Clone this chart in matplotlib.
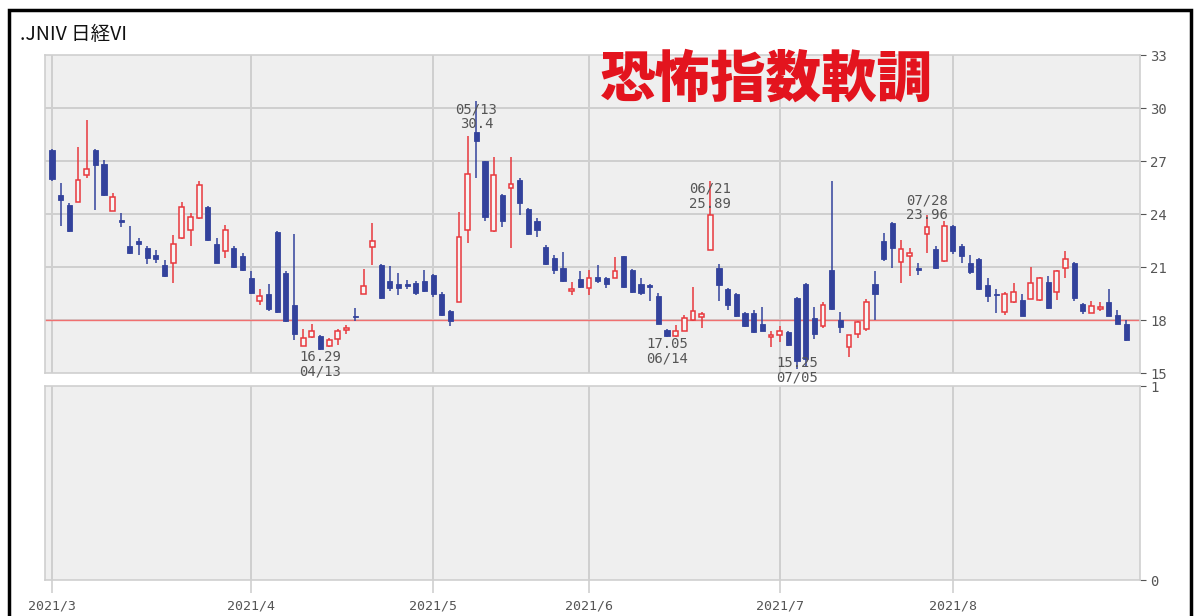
import matplotlib.pyplot as plt
from matplotlib.patches import Rectangle
import numpy as np
import pandas as pd

# Trading days (Tokyo), Mar-Aug 2021
holidays = ["2021-04-29", "2021-05-03", "2021-05-04", "2021-05-05",
            "2021-07-22", "2021-07-23", "2021-08-09"]
dates = pd.bdate_range("2021-03-01", "2021-08-31")
dates = dates[~dates.isin(pd.to_datetime(holidays))]

# Daily OHLC of Nikkei VI
opens = [27.6, 25.1, 24.5, 24.7, 26.2, 27.6, 26.85, 24.15, 23.65, 22.2,
         22.5, 22.1, 21.7, 21.1, 21.25, 22.65, 23.1, 23.75, 24.4, 22.3,
         21.9, 22.1, 21.65, 20.4, 19.1, 19.45, 23.0, 20.65, 18.85, 16.55,
         17.05, 17.1, 16.55, 16.95, 17.45, 18.25, 19.45, 22.15, 21.1, 20.2,
         20.05, 20.05, 20.1, 20.2, 20.55, 19.45, 18.5, 19.0, 23.1, 28.65,
         27.0, 23.05, 25.1, 25.45, 25.95, 24.3, 23.6, 22.15, 21.5, 20.95,
         19.65, 20.3, 19.8, 20.45, 20.35, 20.4, 21.6, 20.85, 20.05, 20.0,
         19.35, 17.45, 17.1, 17.4, 18.0, 18.15, 21.95, 20.95, 19.75, 19.5,
         18.4, 18.4, 17.75, 17.05, 17.15, 17.3, 19.25, 20.05, 18.1, 17.65,
         20.85, 18.0, 16.45, 17.2, 17.5, 20.05, 22.5, 23.5, 21.3, 21.6,
         20.95, 22.85, 22.0, 21.35, 23.3, 22.2, 21.25, 21.45, 20.0, 19.5,
         18.45, 19.0, 19.15, 19.2, 19.15, 20.15, 19.6, 20.95, 21.25, 18.9,
         18.4, 18.65, 19.0, 18.3, 17.8]
highs = [27.7, 25.75, 24.6, 27.8, 29.34, 27.7, 27.07, 25.2, 24.05, 23.3,
         22.64, 22.2, 21.95, 21.4, 22.8, 24.7, 24.05, 25.85, 24.45, 22.65,
         23.4, 22.2, 21.8, 20.75, 19.75, 20.05, 23.05, 20.8, 22.85, 17.5,
         17.75, 17.15, 17.0, 17.5, 17.7, 18.7, 20.9, 23.5, 21.15, 21.05,
         20.65, 20.25, 20.2, 20.85, 20.6, 19.6, 18.55, 24.1, 28.4, 30.4,
         27.0, 27.25, 25.15, 27.25, 26.05, 24.35, 23.75, 22.25, 21.7, 21.85,
         20.15, 20.75, 20.85, 21.1, 20.45, 21.55, 21.65, 20.9, 20.4, 20.05,
         19.55, 17.5, 17.7, 18.3, 19.85, 18.45, 25.89, 21.15, 19.8, 19.55,
         18.45, 18.55, 18.75, 17.4, 17.65, 17.4, 19.3, 20.1, 18.75, 19.0,
         25.85, 18.45, 17.15, 17.95, 19.2, 20.8, 22.95, 23.55, 22.55, 22.05,
         21.25, 23.96, 22.2, 23.6, 23.35, 22.3, 21.7, 21.5, 20.35, 19.75,
         19.6, 20.1, 19.5, 21.0, 20.45, 20.5, 20.85, 21.9, 21.3, 18.95,
         19.1, 19.0, 19.75, 18.55, 18.0]
lows = [25.85, 23.3, 23.0, 24.7, 26.04, 24.25, 25.0, 24.15, 23.25, 21.75,
        21.7, 21.15, 21.25, 20.45, 20.1, 22.6, 22.2, 23.7, 22.5, 21.25,
        21.5, 20.95, 20.75, 19.5, 18.85, 18.5, 18.4, 17.9, 16.85, 16.55,
        17.0, 16.29, 16.45, 16.6, 17.2, 17.95, 19.45, 21.1, 19.2, 19.65,
        19.4, 19.75, 19.4, 19.6, 19.3, 18.2, 17.65, 19.0, 22.35, 26.05,
        23.6, 23.0, 23.25, 22.05, 23.95, 22.8, 22.7, 21.1, 20.6, 20.15,
        19.4, 19.8, 19.4, 20.1, 19.8, 20.4, 19.8, 19.55, 19.4, 19.05,
        17.75, 17.05, 17.05, 17.4, 17.95, 17.55, 21.95, 19.05, 18.55, 18.15,
        17.6, 17.25, 17.35, 16.5, 16.75, 16.55, 15.25, 15.4, 16.9, 17.55,
        18.55, 17.25, 15.9, 17.0, 17.4, 18.0, 21.35, 20.95, 20.1, 20.5,
        20.55, 21.8, 20.9, 21.3, 21.75, 21.25, 20.6, 19.7, 19.0, 18.4,
        18.3, 18.95, 18.2, 19.2, 19.05, 18.65, 19.15, 20.35, 19.1, 18.35,
        18.4, 18.5, 18.2, 17.75, 16.8]
closes = [26.0, 24.8, 23.05, 25.9, 26.55, 26.8, 25.06, 24.95, 23.55, 21.8,
          22.3, 21.5, 21.45, 20.5, 22.3, 24.4, 23.85, 25.65, 22.55, 21.25,
          23.1, 21.0, 20.85, 19.55, 19.35, 18.6, 18.45, 17.95, 17.2, 17.0,
          17.4, 16.35, 16.85, 17.4, 17.55, 18.15, 19.9, 22.5, 19.25, 19.8,
          19.8, 19.95, 19.55, 19.65, 19.45, 18.3, 17.95, 22.7, 26.25, 28.15,
          23.85, 26.2, 23.6, 25.7, 24.6, 22.85, 23.1, 21.15, 20.85, 20.2,
          19.75, 19.85, 20.4, 20.2, 20.05, 20.8, 19.85, 19.6, 19.55, 19.85,
          17.8, 17.1, 17.4, 18.1, 18.5, 18.35, 23.95, 20.0, 18.85, 18.2,
          17.65, 17.3, 17.4, 17.15, 17.4, 16.6, 15.7, 15.8, 17.2, 18.85,
          18.6, 17.6, 17.15, 17.9, 19.0, 19.5, 21.45, 22.1, 22.0, 21.8,
          20.85, 23.25, 20.95, 23.3, 21.9, 21.6, 20.7, 19.75, 19.35, 19.4,
          19.5, 19.6, 18.25, 20.1, 20.35, 18.7, 20.8, 21.45, 19.25, 18.5,
          18.8, 18.75, 18.25, 17.8, 16.85]

# marked extremes: (date, which)
marks = [("2021-04-13", "low"), ("2021-05-13", "high"), ("2021-06-14", "low"),
         ("2021-06-21", "high"), ("2021-07-05", "low"), ("2021-07-28", "high")]
mark_offsets = {"2021-04-13": 0, "2021-05-13": -1, "2021-06-14": 0,
                "2021-06-21": -1, "2021-07-05": 9, "2021-07-28": 15}

y_ticks = [15, 18, 21, 24, 27, 30, 33]
ref_level = 18

BLUE = "#33429c"
RED = "#e8383d"
GRID = "#cfcfcf"
BG = "#efefef"
TXT = "#555555"
MONO = "DejaVu Sans Mono"
JP = ["Noto Sans CJK JP", "DejaVu Sans"]

o = np.array(opens); h = np.array(highs); l = np.array(lows); c = np.array(closes)
x = np.arange(len(dates))
up = c >= o

months = dates.to_period("M")
month_idx = [int(np.argmax(months == m)) for m in months.unique()]
month_lbl = [f"{m.year}/{m.month}" for m in months.unique()]

fig = plt.figure(figsize=(12, 6.16), dpi=100)
ax = fig.add_axes([45 / 1200, 1 - 373 / 616, 1095 / 1200, 318 / 616])
ax2 = fig.add_axes([45 / 1200, 1 - 580 / 616, 1095 / 1200, 194 / 616], sharex=ax)

for a in (ax, ax2):
    a.set_facecolor(BG)
    for s in a.spines.values():
        s.set_color(GRID)
        s.set_linewidth(1.2)
    for mi in month_idx:
        a.axvline(mi, color=GRID, lw=1.4, zorder=0)

for yv in y_ticks[1:-1]:
    ax.axhline(yv, color=GRID, lw=1.4, zorder=0)
ax.axhline(ref_level, color="#f07070", lw=1.0, zorder=1)

# candles
ax.vlines(x[up], l[up], h[up], color=RED, lw=1.1, zorder=2)
ax.vlines(x[~up], l[~up], h[~up], color=BLUE, lw=1.1, zorder=2)
body_lo = np.minimum(o, c)
body_h = np.maximum(np.abs(c - o), 0.08)
ax.bar(x[up], body_h[up], bottom=body_lo[up], width=0.55,
       facecolor="#f6f6f6", edgecolor=RED, lw=1.1, zorder=3)
ax.bar(x[~up], body_h[~up], bottom=body_lo[~up], width=0.6,
       facecolor=BLUE, edgecolor=BLUE, lw=0.6, zorder=3)

for d, kind in marks:
    i = int(np.where(dates == pd.Timestamp(d))[0][0])
    md = dates[i].strftime("%m/%d")
    if kind == "high":
        val = highs[i]
        txt = f"{md}\n{val:g}"
    else:
        val = lows[i]
        txt = f"{val:g}\n{md}"
    ax.annotate(txt, (i, val), xytext=(0, mark_offsets[d]), textcoords="offset points",
                ha="center", va="top", fontsize=10, family=MONO, color=TXT,
                linespacing=1.05, zorder=5, annotation_clip=False)

ax.set_xlim(-0.8, len(dates) + 0.6)
ax.set_ylim(y_ticks[0], y_ticks[-1])
ax.yaxis.tick_right()
ax.set_yticks(y_ticks)
ax.tick_params(axis="y", labelsize=10, colors=TXT, length=4, width=0.8)
ax.tick_params(axis="x", bottom=False, labelbottom=False)
for t in ax.get_yticklabels():
    t.set_family(MONO)

ax2.set_ylim(0, 1)
ax2.yaxis.tick_right()
ax2.set_yticks([0, 1])
ax2.tick_params(axis="y", labelsize=10, colors=TXT, length=4, width=0.8)
ax2.set_xticks(month_idx)
ax2.set_xticklabels(month_lbl)
ax2.tick_params(axis="x", labelsize=9.5, colors=TXT, length=9, width=1.2, color=GRID, pad=5)
for t in ax2.get_xticklabels() + ax2.get_yticklabels():
    t.set_family(MONO)

fig.text(20 / 1200, 1 - 35 / 616, ".JNIV 日経VI", fontsize=14, family=JP,
         color="#111111", va="center", ha="left")
fig.text(766 / 1200, 1 - 80 / 616, "恐怖指数軟調", fontsize=40, family=JP,
         weight="black", color="#e3141e", va="center", ha="center")

fig.add_artist(Rectangle((9 / 1200, -0.05), 1182 / 1200, 1.05 - 10 / 616,
                         transform=fig.transFigure, fill=False, lw=2.5, ec="black"))

fig.savefig("out.png", dpi=100, facecolor="white")
